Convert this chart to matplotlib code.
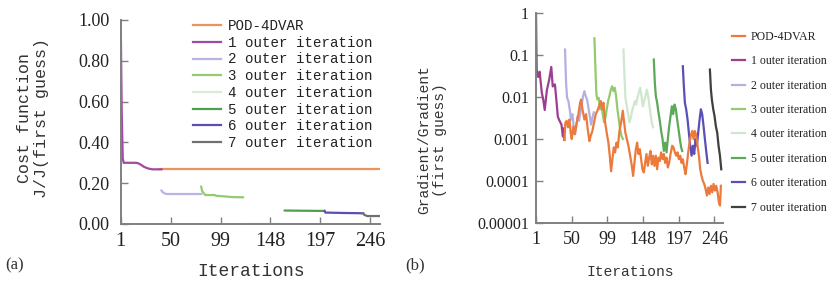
import matplotlib
matplotlib.use("Agg")
import matplotlib.pyplot as plt
from matplotlib.ticker import FixedLocator, FixedFormatter, NullLocator

# ---------------- data ----------------
labels = ["POD-4DVAR", "1 outer iteration", "2 outer iteration", "3 outer iteration",
          "4 outer iteration", "5 outer iteration", "6 outer iteration", "7 outer iteration"]
colors = ["#ec7a3c", "#9c3f92", "#b3b0e2", "#93cb6e", "#cfe7cf", "#5ea85a", "#5a4fb5", "#404040"]
colors_a = ["#f0915a", "#a04aa0", "#b8b4e4", "#93cb6e", "#d8ecd8", "#4f9f4f", "#5a4fb5", "#707070"]

xticks = [1, 50, 99, 148, 197, 246]
yticks_a = [0.0, 0.2, 0.4, 0.6, 0.8, 1.0]
yticklabels_a = ["0.00", "0.20", "0.40", "0.60", "0.80", "1.00"]
yticks_b = [1e-5, 1e-4, 1e-3, 1e-2, 1e-1, 1]
yticklabels_b = ["0.00001", "0.0001", "0.001", "0.01", "0.1", "1"]

# (a) cost function
c1_x = [1, 2, 3, 4, 10, 16, 18, 21, 24, 28, 32, 36, 41]
c1_y = [1.00, 0.55, 0.32, 0.30, 0.30, 0.30, 0.298, 0.29, 0.28, 0.272, 0.268, 0.268, 0.268]
cpod_x = [40, 80, 120, 160, 200, 240, 255]
cpod_y = [0.268, 0.268, 0.268, 0.268, 0.268, 0.268, 0.268]
c2_x = [41, 42, 44, 46, 60, 70, 80]
c2_y = [0.164, 0.157, 0.150, 0.147, 0.147, 0.147, 0.147]
c3_x = [80, 81, 84, 93, 95, 104, 110, 121]
c3_y = [0.183, 0.160, 0.142, 0.142, 0.138, 0.135, 0.132, 0.131]
c4_x = [121, 140, 162]
c4_y = [0.002, 0.002, 0.002]
c5_x = [162, 180, 201]
c5_y = [0.066, 0.065, 0.064]
c6_x = [201, 202, 220, 235, 239]
c6_y = [0.064, 0.056, 0.054, 0.053, 0.052]
c7_x = [239, 240, 243, 250, 255]
c7_y = [0.052, 0.045, 0.039, 0.039, 0.039]

# (b) gradient
g1_x = [1, 2, 4, 6, 9, 11, 13, 16, 19, 22, 24, 27, 29, 31, 33, 36, 38, 39, 40]
g1_y = [1.0, 0.044, 0.030, 0.040, 0.0126, 0.0085, 0.0049, 0.0148, 0.025, 0.052, 0.0178,
        0.020, 0.0085, 0.0034, 0.0028, 0.0022, 0.00115, 0.0018, 0.00095]
gpod_x = [40, 41.4, 43.2, 45, 46.9, 48.7, 50.1, 52.4, 54.2, 57, 59.3, 61.6, 63, 65.2, 67.5,
          69.8, 72.1, 74.4, 76.2, 78.5, 80.8, 83.1, 85.4, 87.7, 90, 91.8, 93.7, 96,
          98.2, 100.5, 102.4, 104.2, 106, 107.9, 109.7, 111.6, 113.4, 115.7, 118,
          120.3, 122.1, 123.9, 125.8, 128, 130.4, 132.7, 134.5, 136.3, 138.2, 140,
          141.8, 143.7, 145.5, 147.3, 149.2, 151, 152.8, 154.7, 156.5, 158.3, 160.2,
          162, 163.8, 165.7, 167.5, 169.3, 171.2, 173, 174.9, 176.7, 178.5, 180.4,
          182.2, 184, 185.9, 188.2, 190, 191.8, 193.7, 195.5, 197.3, 199.2, 201,
          202.8, 204.7, 206.5, 208.3, 210.2, 212, 213.8, 215.7, 217.5, 219.3, 221.2,
          223, 224.9, 226.7, 228.5, 230.4, 232.2, 234, 235.9, 237.7, 239.5, 241.4,
          243.2, 245, 246.9, 248.7, 250.5, 252.4, 253.8, 255.1]
gpod_y = [0.00095, 0.00245, 0.0027, 0.0019, 0.0029, 0.0014, 0.001, 0.0020, 0.0013, 0.0025,
          0.0039, 0.0073, 0.0087, 0.0047, 0.0029, 0.0039, 0.0017, 0.00089, 0.0012,
          0.00155, 0.0025, 0.0039, 0.0047, 0.0061, 0.0080, 0.0051, 0.0073, 0.0025,
          0.0014, 0.00082, 0.0004, 0.00017, 0.00033, 0.00063, 0.00048, 0.00082,
          0.00063, 0.00155, 0.0025, 0.0047, 0.0025, 0.0014, 0.001, 0.00069, 0.0004,
          0.00023, 0.000132, 0.00027, 0.00057, 0.00082, 0.00044, 0.00057, 0.00033,
          0.00019, 0.00016, 0.00027, 0.00044, 0.00023, 0.00036, 0.00052, 0.00025,
          0.0004, 0.00023, 0.0004, 0.00019, 0.00036, 0.0003, 0.00048, 0.00033,
          0.00044, 0.00027, 0.00036, 0.00021, 0.00027, 0.00044, 0.00069, 0.00063,
          0.00048, 0.0004, 0.00048, 0.00033, 0.0004, 0.00027, 0.00033, 0.00021,
          0.000145, 0.00025, 0.00048, 0.00082, 0.0012, 0.00155, 0.001, 0.00155,
          0.0012, 0.00069, 0.0004, 0.00019, 0.000132, 0.0001, 0.000085, 0.000065,
          0.000045, 0.00007, 0.000049, 0.000077, 0.000054, 0.000085, 0.000059,
          0.000077, 0.000054, 0.000031, 0.000026, 0.000077]
g2_x = [40.9, 42.3, 43.7, 45.5, 47.3, 49.2, 51, 52.8, 54.7, 56.5, 58.3, 60.2, 62, 63.8,
        65.7, 67.5, 69.3, 71.2, 73, 74.9, 76.7, 78.5, 80.4]
g2_y = [0.135, 0.022, 0.0096, 0.0080, 0.0051, 0.0029, 0.0039, 0.0020, 0.0013, 0.002, 0.0035,
        0.0027, 0.0043, 0.0066, 0.0105, 0.0138, 0.0105, 0.0087, 0.0056, 0.0035, 0.0022,
        0.0032, 0.0043]
g3_x = [81.3, 82.7, 84, 85.4, 87.2, 89.1, 90.9, 92.7, 94.6, 96.4, 98.2, 100.1, 101.9, 103.8,
        105.6, 107.4, 109.3, 111.1, 112.9, 114.8, 116.6, 118.4, 120.3]
g3_y = [0.25, 0.045, 0.0115, 0.0087, 0.0096, 0.0051, 0.0066, 0.0039, 0.0025, 0.0032, 0.0051,
        0.008, 0.0105, 0.015, 0.018, 0.0138, 0.0166, 0.0105, 0.0051, 0.0029, 0.0017, 0.0012,
        0.001]
g4_x = [121.2, 122.6, 123.9, 125.8, 127.6, 129.4, 131.3, 133.1, 134.9, 136.8, 138.6, 140.4,
        142.3, 144.1, 146, 147.8, 149.6, 151.5, 153.3, 155.1, 157, 158.8, 160.6, 162]
g4_y = [0.135, 0.0316, 0.0096, 0.006, 0.0039, 0.0025, 0.0032, 0.0047, 0.006, 0.008, 0.0066,
        0.0096, 0.0126, 0.0166, 0.0105, 0.006, 0.008, 0.0105, 0.015, 0.0105, 0.006, 0.0035,
        0.0022, 0.0019]
g5_x = [162.9, 164.3, 165.7, 167.5, 169.3, 171.2, 173, 174.9, 176.7, 178.5, 180.4, 182.2, 184,
        185.9, 187.7, 189.5, 191.4, 193.2, 195, 196.9, 198.7, 200.5, 201.9]
g5_y = [0.078, 0.022, 0.0105, 0.0073, 0.0043, 0.0027, 0.00155, 0.001, 0.00052, 0.00082,
        0.00048, 0.001, 0.002, 0.0035, 0.006, 0.0039, 0.0066, 0.0051, 0.0029, 0.0017, 0.001,
        0.00063, 0.00052]
g6_x = [202.8, 204.2, 205.6, 207.4, 209.3, 211.1, 212.9, 214.8, 216.6, 218.4, 220.3, 222.1,
        223.9, 225.8, 227.6, 229.4, 231.3, 233.1, 234.9, 236.8]
g6_y = [0.054, 0.018, 0.0073, 0.0051, 0.0029, 0.0014, 0.00069, 0.0004, 0.00069, 0.00044,
        0.001, 0.00069, 0.0014, 0.0029, 0.0051, 0.0039, 0.002, 0.001, 0.00052, 0.00027]
g7_x = [240, 241.4, 242.7, 244.6, 246.4, 248.2, 250.1, 251.9, 253.8, 255.6]
g7_y = [0.045, 0.015, 0.0087, 0.0051, 0.0035, 0.002, 0.0014, 0.00069, 0.0004, 0.00019]

cost_series = [(cpod_x, cpod_y), (c1_x, c1_y), (c2_x, c2_y), (c3_x, c3_y),
               (c4_x, c4_y), (c5_x, c5_y), (c6_x, c6_y), (c7_x, c7_y)]
grad_series = [(gpod_x, gpod_y), (g1_x, g1_y), (g2_x, g2_y), (g3_x, g3_y),
               (g4_x, g4_y), (g5_x, g5_y), (g6_x, g6_y), (g7_x, g7_y)]

# ---------------- figure ----------------
W, H = 833, 285
fig = plt.figure(figsize=(W / 100, H / 100), dpi=100)
MONO = "Liberation Mono"
SERIF = "Liberation Serif"
AX_COL = "#808080"


def px_axes(x0, x1, ytop, ybot):
    return fig.add_axes([x0 / W, 1 - ybot / H, (x1 - x0) / W, (ybot - ytop) / H])


def style(ax):
    for s in ["top", "right"]:
        ax.spines[s].set_visible(False)
    for s in ["left", "bottom"]:
        ax.spines[s].set_color(AX_COL)
        ax.spines[s].set_linewidth(1.4)
    ax.tick_params(direction="in", length=5, width=1.0, color=AX_COL)
    ax.patch.set_alpha(0)


# panel (a)
axa = px_axes(120.7, 379.5, 20, 224)
style(axa)
for (x, y), c, lab in zip(cost_series, colors_a, labels):
    axa.plot(x, y, color=c, lw=1.6, label=lab, solid_joinstyle="miter")
axa.set_xlim(1, 255)
axa.set_ylim(0, 1.0)
axa.xaxis.set_major_locator(FixedLocator(xticks))
axa.yaxis.set_major_locator(FixedLocator(yticks_a))
axa.yaxis.set_major_formatter(FixedFormatter(yticklabels_a))
axa.tick_params(axis="x", pad=6, labelsize=14.5)
axa.tick_params(axis="y", pad=8, labelsize=13)
for t in axa.get_xticklabels() + axa.get_yticklabels():
    t.set_family(SERIF)
    t.set_color("#222222")
leg_a = axa.legend(loc="upper left", bbox_to_anchor=(186 / W, 1 - 12 / H),
                   bbox_transform=fig.transFigure, frameon=False, borderpad=0,
                   handlelength=1.95, handletextpad=0.5, labelspacing=0.19,
                   prop={"family": MONO, "size": 10.2})
for t in leg_a.get_texts():
    t.set_color("#222222")

# panel (b)
axb = px_axes(536, 723, 13, 223)
style(axb)
for i, ((x, y), c, lab) in enumerate(zip(grad_series, colors, labels)):
    axb.plot(x, y, color=c, lw=1.6, label=lab, zorder=3 if i == 0 else 2)
axb.set_yscale("log")
axb.set_xlim(1, 258)
axb.set_ylim(1e-5, 1)
axb.xaxis.set_major_locator(FixedLocator(xticks))
axb.yaxis.set_major_locator(FixedLocator(yticks_b))
axb.yaxis.set_major_formatter(FixedFormatter(yticklabels_b))
axb.yaxis.set_minor_locator(NullLocator())
axb.tick_params(axis="x", pad=6, labelsize=13)
axb.tick_params(axis="y", pad=5, labelsize=11.5)
for t in axb.get_xticklabels() + axb.get_yticklabels():
    t.set_family(SERIF)
    t.set_color("#222222")
leg_b = axb.legend(loc="upper left", bbox_to_anchor=(726 / W, 1 - 25 / H),
                   bbox_transform=fig.transFigure, frameon=False, borderpad=0,
                   handlelength=1.15, handletextpad=0.45, labelspacing=1.05,
                   prop={"family": SERIF, "size": 8.5})
for t in leg_b.get_texts():
    t.set_color("#222222")

# labels
fig.text(33 / W, 1 - 118 / H, "Cost function\nJ/J(first guess)", rotation=90,
         ha="center", va="center", multialignment="center", family=MONO, size=12,
         color="#333333", linespacing=1.15)
fig.text(251 / W, 1 - 272 / H, "Iterations", ha="center", va="center", family=MONO,
         size=13, color="#333333")
fig.text(15 / W, 1 - 265 / H, "(a)", ha="center", va="center", family=SERIF, size=12,
         color="#333333")
fig.text(432 / W, 1 - 140 / H, "Gradient/Gradient\n(first guess)", rotation=90,
         ha="center", va="center", multialignment="center", family=MONO, size=10.5,
         color="#333333", linespacing=1.2)
fig.text(630 / W, 1 - 272 / H, "Iterations", ha="center", va="center", family=MONO,
         size=10.5, color="#333333")
fig.text(415 / W, 1 - 265 / H, "(b)", ha="center", va="center", family=SERIF, size=12,
         color="#333333")

fig.savefig("out.png", dpi=100)
